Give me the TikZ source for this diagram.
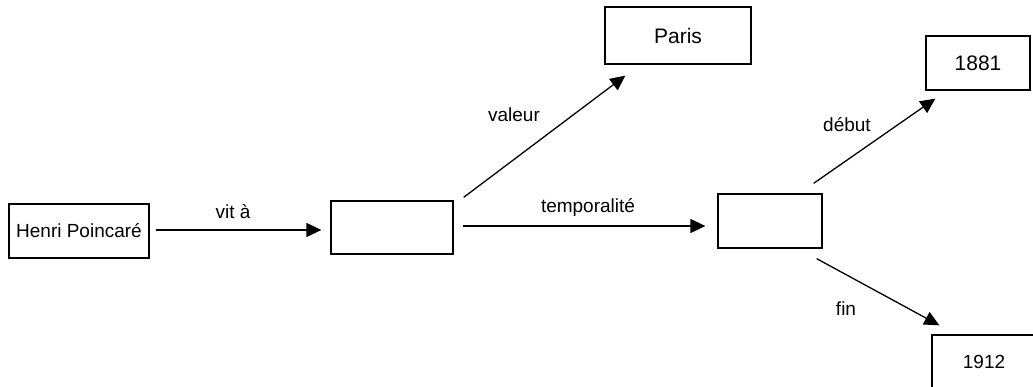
\documentclass[tikz,border=0pt]{standalone}
\usepackage{fontspec}
\setmainfont{Liberation Sans}
\usetikzlibrary{arrows.meta}
\begin{document}
\begin{tikzpicture}
[x=1pt, y=-1pt, line width=1.3pt, color=black,
 font=\fontsize{19}{22}\selectfont,
 box/.style={draw, inner sep=0pt, minimum width=#1, minimum height=54pt},
 box/.default=104pt,
 big/.style={font=\fontsize{21}{24}\selectfont},
 rel/.style={-{Triangle[length=15pt,width=14pt]}}]
  \useasboundingbox (0,0) rectangle (1033,387);
  % boxes
  \node [box=140pt] (henri) at (79,231) {Henri Poincaré};
  \node [box=122pt, minimum height=53pt] (lieu) at (392,227.5) {};
  \node [box=146pt, minimum height=57pt, big] (paris) at (678,35.5) {Paris};
  \node [box] (periode) at (770,221) {};
  \node [box, big] (d1881) at (978,63) {1881};
  \node [box] (d1912) at (984,362) {1912};
  % labels
  \node (lvit) at (233,212) {vit à};
  \node (lvaleur) at (514,115) {valeur};
  \node (ltemp) at (588,207) {temporalité};
  \node (ldebut) at (847,125) {début};
  \node (lfin) at (846,309) {fin};
  % arrows
  \draw [rel] ([shift={(6,-1)}]henri.east) -- ([shift={(-9,2.5)}]lieu.west);
  \draw [rel] ([shift={(10,-3)}]lieu.north east) -- ([shift={(21,11)}]paris.south west);
  \draw [rel] ([shift={(9,-1.5)}]lieu.east) -- ([shift={(-12,5)}]periode.west);
  \draw [rel] ([shift={(-9,-10)}]periode.north east) -- ([shift={(10,8)}]d1881.south west);
  \draw [rel] ([shift={(-6,10)}]periode.south east) -- ([shift={(8,-9)}]d1912.north west);
\end{tikzpicture}
\end{document}
